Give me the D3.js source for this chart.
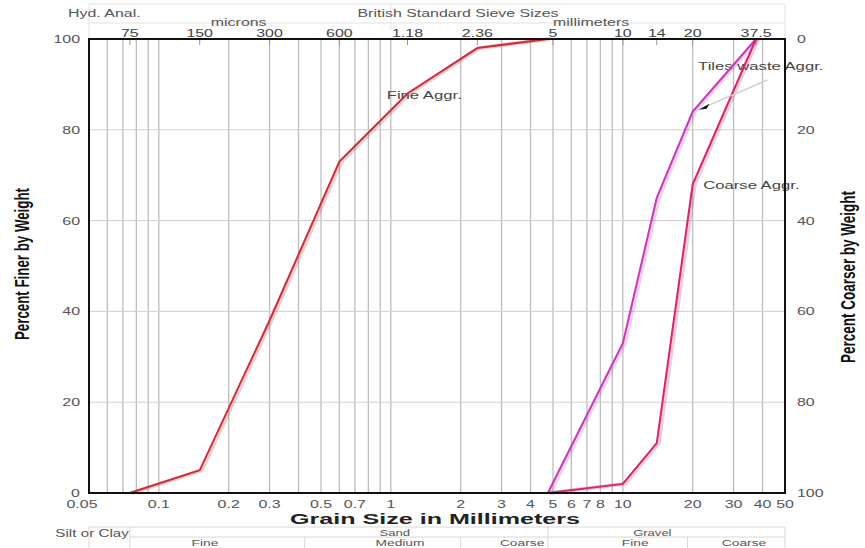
<!DOCTYPE html>
<html><head><meta charset="utf-8">
<script src="https://cdn.jsdelivr.net/npm/d3@7"></script>
<style>body{margin:0;background:#fff} text{font-family:"Liberation Sans",Arial,sans-serif}</style>
</head><body>
<svg id="c" width="865" height="548"></svg>
<script>
// ---- data ----
const fineSizes = [0.075, 0.15, 0.3, 0.6, 1.18, 2.36, 4.75];
const finePassing = [0, 5, 38, 73, 88, 98, 100];
const tileSizes = [4.75, 10, 14, 20, 37.5];
const tilePassing = [0, 33, 65, 84, 100];
const coarseSizes = [4.75, 10, 14, 20, 37.5];
const coarsePassing = [0, 2, 11, 68, 100];
const bottomTicks = [0.05,0.1,0.2,0.3,0.5,0.7,1,2,3,4,5,6,7,8,10,20,30,40,50];
const sieveSizes = [0.075,0.15,0.3,0.6,1.18,2.36,5,10,14,20,37.5];
const sieveLabels = ["75","150","300","600","1.18","2.36","5","10","14","20","37.5"];
const leftTicks = [0,20,40,60,80,100];
const rightTicks = [0,20,40,60,80,100];
const classBounds = [0.075, 0.425, 2, 4.75, 19];

const SX = 1.45; // horizontal stretch of text
const svg = d3.select("#c");
const L = 89, R = 785, T = 39, B = 493;
const x = d3.scaleLog().domain([0.05, 50]).range([L, R]);
const y = d3.scaleLinear().domain([0, 100]).range([B, T]);
const y2 = d3.scaleLinear().domain([0, 100]).range([T, B]);

function txt(g, px, py, s, opt = {}) {
  const t = g.append("text")
    .attr("transform", `translate(${px},${py}) scale(${SX},1)` + (opt.rot ? " rotate(-90)" : ""))
    .attr("text-anchor", opt.anchor || "middle")
    .attr("font-size", opt.size || 11)
    .attr("fill", opt.fill || "#555")
    .text(s);
  if (opt.weight) t.attr("font-weight", opt.weight);
  if (opt.family) t.attr("font-family", opt.family);
  if (opt.len) t.attr("textLength", opt.len).attr("lengthAdjust", "spacingAndGlyphs");
  return t;
}

// grid
const grid = [];
[0.01, 0.1, 1, 10].forEach(dec => { for (let k = 1; k <= 9; k++) { const v = +(dec * k).toPrecision(3); if (v > 0.05 && v < 50) grid.push(v); } });
svg.append("g").selectAll("line").data(grid).join("line")
  .attr("x1", d => x(d)).attr("x2", d => x(d)).attr("y1", T).attr("y2", B)
  .attr("stroke", "#bdbdbd").attr("stroke-width", 1.3);
svg.append("g").selectAll("line").data([20, 40, 60, 80]).join("line")
  .attr("x1", L).attr("x2", R).attr("y1", d => y(d)).attr("y2", d => y(d))
  .attr("stroke", "#cfcfcf").attr("stroke-width", 1);

// top sieve ticks
svg.append("g").selectAll("line").data(sieveSizes).join("line")
  .attr("x1", d => x(d)).attr("x2", d => x(d)).attr("y1", T).attr("y2", T + 6)
  .attr("stroke", "#999").attr("stroke-width", 1);

// header frame
const hdr = svg.append("g").attr("stroke", "#e2e2e2").attr("fill", "none");
hdr.append("line").attr("x1", L).attr("x2", R).attr("y1", 4).attr("y2", 4);
hdr.append("line").attr("x1", L).attr("x2", R).attr("y1", 23).attr("y2", 23);
hdr.append("line").attr("x1", L).attr("x2", L).attr("y1", 4).attr("y2", T);
hdr.append("line").attr("x1", R).attr("x2", R).attr("y1", 4).attr("y2", T);
hdr.append("line").attr("x1", x(1)).attr("x2", x(1)).attr("y1", 4).attr("y2", 30);

const tg = svg.append("g");
txt(tg, 68, 17, "Hyd. Anal.", { anchor: "start" });
txt(tg, 458, 17, "British Standard Sieve Sizes");
txt(tg, x(0.2) + 10, 26, "microns");
txt(tg, x(7.3), 26, "millimeters");
sieveSizes.forEach((d, i) => txt(tg, x(d), 37, sieveLabels[i], { fill: "#444" }));

// curves
const line = d3.line().x(d => x(d[0])).y(d => y(d[1]));
const curves = [
  { s: fineSizes, p: finePassing, c: "#c8303c" },
  { s: tileSizes, p: tilePassing, c: "#c53cb4" },
  { s: coarseSizes, p: coarsePassing, c: "#d0286c" }
];
curves.forEach(cv => {
  const pts = cv.s.map((d, i) => [d, cv.p[i]]);
  svg.append("path").attr("d", line(pts)).attr("fill", "none")
    .attr("stroke", cv.c).attr("stroke-opacity", 0.25).attr("stroke-width", 4).attr("transform", "translate(2,0)");
  svg.append("path").attr("d", line(pts)).attr("fill", "none")
    .attr("stroke", cv.c).attr("stroke-width", 2);
});

// annotation arrow
svg.append("line").attr("x1", x(42)).attr("y1", y(91)).attr("x2", x(22.5)).attr("y2", y(85))
  .attr("stroke", "#cfcfcf").attr("stroke-width", 1.5);
const ax = x(21.2), ay = y(84.4);
svg.append("path").attr("d", `M${ax},${ay} L${ax + 11},${ay - 6} L${ax + 8},${ay - 1} Z`).attr("fill", "#111");

// curve labels
txt(tg, x(0.96), y(86.8), "Fine Aggr.", { anchor: "start", fill: "#444", size: 11.5 });
txt(tg, x(21.1), y(93.2), "Tiles waste Aggr.", { anchor: "start", fill: "#444", size: 11.5 });
txt(tg, x(22.2), y(67), "Coarse Aggr.", { anchor: "start", fill: "#444", size: 11.5 });

// frame
svg.append("rect").attr("x", L).attr("y", T).attr("width", R - L).attr("height", B - T)
  .attr("fill", "none").attr("stroke", "#111").attr("stroke-width", 2);

// axes labels
bottomTicks.forEach(d => txt(tg, d === 0.05 ? x(d) - 7 : x(d), 507.5, d));
leftTicks.forEach(d => txt(tg, 80, y(d) + 4, d, { anchor: "end" }));
rightTicks.forEach(d => txt(tg, 797, y2(d) + 4, d, { anchor: "start" }));

txt(tg, 29, 264, "Percent Finer by Weight", { rot: true, size: 14, fill: "#111", weight: "bold", len: 152 });
txt(tg, 855, 277, "Percent Coarser by Weight", { rot: true, size: 14, fill: "#111", weight: "bold", len: 172 });
txt(tg, 435, 524, "Grain Size in Millimeters", { size: 15.5, weight: "bold", fill: "#222", len: 200 });

// soil classification table
const cls = svg.append("g").attr("stroke", "#d8d8d8");
cls.append("line").attr("x1", L).attr("x2", R).attr("y1", 527).attr("y2", 527);
cls.append("line").attr("x1", x(classBounds[0])).attr("x2", R).attr("y1", 537).attr("y2", 537);
[0.05, 0.075, 4.75, 50].forEach(v => cls.append("line").attr("x1", x(v)).attr("x2", x(v)).attr("y1", 527).attr("y2", 548));
[0.425, 2, 19].forEach(v => cls.append("line").attr("x1", x(v)).attr("x2", x(v)).attr("y1", 537).attr("y2", 548));

txt(tg, x(0.075) - 1, 537, "Silt or Clay", { anchor: "end", size: 10.5 });
txt(tg, x(1.04), 535.5, "Sand", { size: 9 });
txt(tg, x(13.4), 535.5, "Gravel", { size: 9 });
txt(tg, x(0.158), 545.5, "Fine", { size: 9.5 });
txt(tg, x(1.095), 545.5, "Medium", { size: 9.5 });
txt(tg, x(3.68), 545.5, "Coarse", { size: 9.5 });
txt(tg, x(11.3), 545.5, "Fine", { size: 9.5 });
txt(tg, x(33.3), 545.5, "Coarse", { size: 9.5 });
</script>
</body></html>
